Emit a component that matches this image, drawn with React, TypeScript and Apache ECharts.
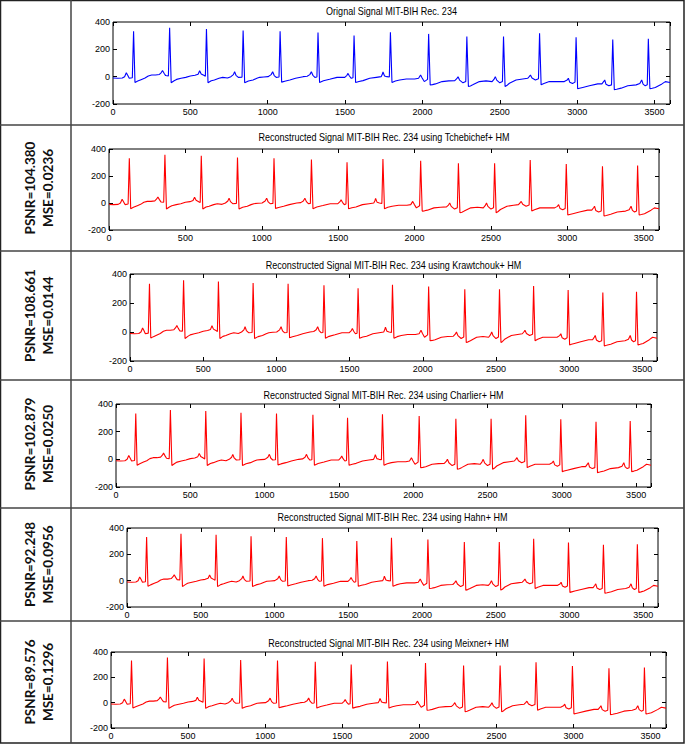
import React, { useEffect, useRef } from 'react';
import * as echarts from 'echarts';

// ECG samples (sample index, amplitude)
const SIGNAL: [number, number][] = [
  [0, -10], [30, -12], [60, -10], [75, 0], [86, 28], [95, 10], [105, -12], [125, -8],
  [133, 332], [142, -42], [160, -32], [185, -20], [207, -10], [228, 5], [250, 12], [275, 12], [300, 16], [312, 30], [320, 45], [330, 25], [340, 8], [358, 5],
  [366, 357], [376, -45], [395, -30], [411, -20], [440, -12], [470, -5], [500, 5], [530, 10], [550, 18], [560, 43], [570, 20], [590, 8], [597, 3],
  [604, 349], [614, -45], [635, -30], [655, -24], [685, -12], [709, -5], [740, -10], [762, 0], [778, 15], [786, 36], [795, 10], [810, -5], [834, -3],
  [841, 337], [851, -45], [875, -32], [905, -24], [930, -12], [948, -5], [975, -2], [1002, 0], [1022, 15], [1032, 36], [1042, 8], [1055, -5], [1073, -3],
  [1080, 332], [1090, -40], [1110, -33], [1143, -24], [1180, -12], [1229, 0], [1255, 3], [1272, 15], [1282, 36], [1292, 10], [1305, -5], [1318, -3],
  [1325, 323], [1335, -43], [1360, -30], [1400, -19], [1448, -5], [1498, -5], [1512, 10], [1519, 24], [1528, 5], [1540, -12], [1551, -8],
  [1558, 301], [1568, -43], [1590, -35], [1616, -29], [1659, -12], [1702, -5], [1733, 0], [1740, 15], [1745, 34], [1755, 5], [1770, 0], [1786, -3],
  [1793, 325], [1803, -43], [1825, -32], [1853, -24], [1896, -17], [1950, -17], [1975, -12], [1988, 12], [1998, -10], [2012, -36], [2033, -20],
  [2040, 313], [2050, -60], [2065, -58], [2084, -53], [2127, -36], [2170, -31], [2209, -29], [2222, -15], [2230, 0], [2240, -25], [2262, -45], [2280, -35],
  [2287, 294], [2297, -72], [2310, -68], [2325, -60], [2368, -36], [2411, -31], [2450, -36], [2462, -20], [2471, 0], [2480, -25], [2500, -45], [2517, -35],
  [2524, 294], [2534, -72], [2545, -65], [2562, -48], [2605, -24], [2648, -17], [2680, -12], [2690, 0], [2698, 12], [2708, -10], [2730, -24], [2750, -15],
  [2757, 318], [2767, -60], [2785, -50], [2820, -36], [2863, -36], [2917, -36], [2935, -25], [2943, -12], [2952, -40], [2970, -50], [2986, -40],
  [2993, 289], [3003, -89], [3015, -85], [3036, -79], [3079, -67], [3133, -53], [3160, -53], [3172, -35], [3178, -24], [3186, -55], [3205, -67], [3222, -60],
  [3230, 272], [3240, -96], [3255, -92], [3284, -84], [3327, -67], [3381, -60], [3405, -50], [3417, -24], [3426, -55], [3440, -67], [3453, -60],
  [3460, 277], [3470, -89], [3485, -85], [3505, -79], [3548, -53], [3570, -36], [3600, -43],
];

const TITLES = [
  'Orignal Signal MIT-BIH Rec. 234',
  'Reconstructed Signal MIT-BIH Rec. 234 using Tchebichef+ HM',
  'Reconstructed Signal MIT-BIH Rec. 234 using Krawtchouk+ HM',
  'Reconstructed Signal MIT-BIH Rec. 234 using Charlier+ HM',
  'Reconstructed Signal MIT-BIH Rec. 234 using Hahn+ HM',
  'Reconstructed Signal MIT-BIH Rec. 234 using Meixner+ HM',
];
const PSNR_LABELS = ['', 'PSNR=104.380', 'PSNR=108.661', 'PSNR=102.879', 'PSNR=92.248', 'PSNR=89.576'];
const MSE_LABELS = ['', 'MSE=0.0236', 'MSE=0.0144', 'MSE=0.0250', 'MSE=0.0956', 'MSE=0.1296'];
const X_MIN = 0;
const X_MAX = 3600;
const X_STEP = 500;
const Y_MIN = -200;
const Y_MAX = 400;
const Y_STEP = 200;

// layout (pixels)
const PLOTS = [
  { left: 113, top: 22, width: 557, height: 82, titleY: 11 },
  { left: 109, top: 149, width: 550, height: 81, titleY: 137 },
  { left: 130, top: 274, width: 527, height: 87, titleY: 265 },
  { left: 116, top: 404, width: 535, height: 83, titleY: 395 },
  { left: 127, top: 528, width: 531, height: 79, titleY: 517 },
  { left: 111, top: 652, width: 555, height: 76, titleY: 643 },
];
const ROW_EDGES = [0, 125, 251, 380, 508, 621, 743];
const COL_X = 71;
const LINE_COLORS = ['#0000ff', '#ff0000', '#ff0000', '#ff0000', '#ff0000', '#ff0000'];
const TICK_FONT = '"Liberation Sans", Arial, sans-serif';
const LABEL_FONT = 'Lato, "Open Sans", sans-serif';

export default function App() {
  const ref = useRef<HTMLDivElement>(null);
  useEffect(() => {
    const chart = echarts.init(ref.current!, null, { renderer: 'svg' });
    const grids: any[] = [];
    const xAxes: any[] = [];
    const yAxes: any[] = [];
    const series: any[] = [];
    const graphic: any[] = [];
    PLOTS.forEach((p, i) => {
      grids.push({ left: p.left, top: p.top, width: p.width, height: p.height, show: true, borderColor: '#000', borderWidth: 1, backgroundColor: '#fff' });
      const tick = { show: true, inside: true, length: 4, lineStyle: { color: '#000', width: 1 } };
      const line = { show: false, onZero: false };
      xAxes.push({
        type: 'value', gridIndex: i, position: 'bottom', min: X_MIN, max: X_MAX, interval: X_STEP,
        axisLine: line, splitLine: { show: false }, axisTick: tick,
        axisLabel: { margin: 3, fontSize: 9, color: '#000', fontFamily: TICK_FONT, formatter: (v: number) => (v % X_STEP === 0 ? String(v) : '') },
      });
      xAxes.push({
        type: 'value', gridIndex: i, position: 'top', min: X_MIN, max: X_MAX, interval: X_STEP,
        axisLine: line, splitLine: { show: false }, axisTick: tick, axisLabel: { show: false },
      });
      yAxes.push({
        type: 'value', gridIndex: i, position: 'left', min: Y_MIN, max: Y_MAX, interval: Y_STEP,
        axisLine: line, splitLine: { show: false }, axisTick: tick,
        axisLabel: { margin: 3, fontSize: 9, color: '#000', fontFamily: TICK_FONT },
      });
      yAxes.push({
        type: 'value', gridIndex: i, position: 'right', min: Y_MIN, max: Y_MAX, interval: Y_STEP,
        axisLine: line, splitLine: { show: false }, axisTick: tick, axisLabel: { show: false },
      });
      series.push({
        type: 'line', xAxisIndex: 2 * i, yAxisIndex: 2 * i, data: SIGNAL, showSymbol: false, symbol: 'none',
        lineStyle: { width: 1.1, color: LINE_COLORS[i] }, itemStyle: { color: LINE_COLORS[i] }, silent: true,
      });
      graphic.push({
        type: 'text', x: p.left + p.width / 2, y: p.titleY, scaleX: 0.86,
        style: { text: TITLES[i], fontSize: 10.5, fontFamily: TICK_FONT, fill: '#000', textAlign: 'center', textVerticalAlign: 'middle' },
      });
      if (PSNR_LABELS[i]) {
        const cy = (ROW_EDGES[i] + ROW_EDGES[i + 1]) / 2;
        graphic.push({
          type: 'text', x: 30, y: cy, rotation: Math.PI / 2,
          style: { text: PSNR_LABELS[i], fontSize: 13.5, fontWeight: 'bold', fontFamily: LABEL_FONT, fill: '#111', textAlign: 'center', textVerticalAlign: 'middle' },
        });
        graphic.push({
          type: 'text', x: 48, y: cy, rotation: Math.PI / 2,
          style: { text: MSE_LABELS[i], fontSize: 13.5, fontWeight: 'bold', fontFamily: LABEL_FONT, fill: '#111', textAlign: 'center', textVerticalAlign: 'middle' },
        });
      }
    });
    // table lines
    graphic.push({ type: 'rect', shape: { x: 0.5, y: 0.5, width: 683.5, height: 742.5 }, style: { fill: 'none', stroke: '#222', lineWidth: 1.5 } });
    graphic.push({ type: 'line', shape: { x1: COL_X, y1: 0, x2: COL_X, y2: 743 }, style: { stroke: '#444', lineWidth: 1.5 } });
    ROW_EDGES.slice(1, -1).forEach((y) => {
      graphic.push({ type: 'line', shape: { x1: 0, y1: y, x2: 684, y2: y }, style: { stroke: '#444', lineWidth: 1.5 } });
    });
    chart.setOption({ animation: false, grid: grids, xAxis: xAxes, yAxis: yAxes, series, graphic });
    return () => chart.dispose();
  }, []);
  return <div ref={ref} style={{ position: 'absolute', left: 0, top: 0, width: 685, height: 744, background: '#fff' }} />;
}
